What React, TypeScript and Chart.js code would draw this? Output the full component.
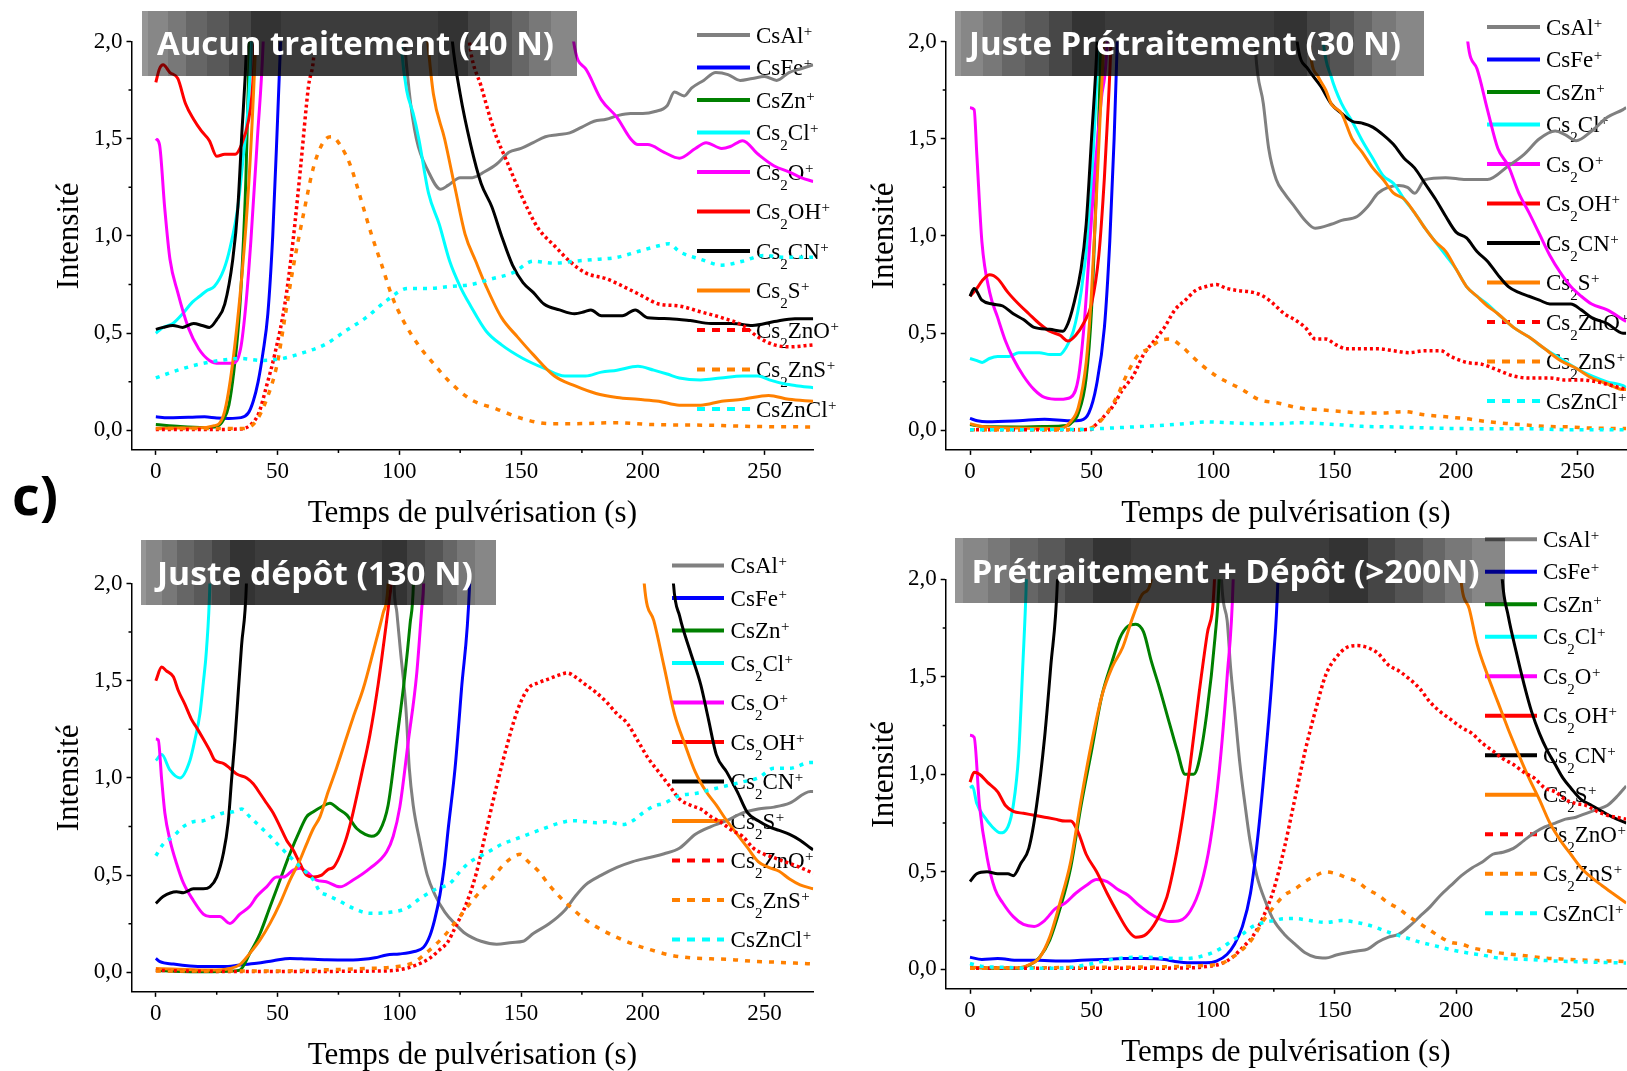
import React, { useEffect, useRef } from 'react';
import { Chart, registerables } from 'chart.js';

Chart.register(...registerables);

type Pt = [number, number];

// ---------- text / categories ----------
const ionLabels = ['CsAl⁺', 'CsFe⁺', 'CsZn⁺', 'Cs₂Cl⁺', 'Cs₂O⁺', 'Cs₂OH⁺', 'Cs₂CN⁺', 'Cs₂S⁺', 'Cs₂ZnO⁺', 'Cs₂ZnS⁺', 'CsZnCl⁺'];
const panelTitles = ['Aucun traitement (40 N)', 'Juste Prétraitement (30 N)', 'Juste dépôt (130 N)', 'Prétraitement + Dépôt (>200N)'];
const xTickValues = [0, 50, 100, 150, 200, 250];
const xMinorValues = [25, 75, 125, 175, 225];
const yTickValues = [0, 0.5, 1, 1.5, 2];
const yMinorValues = [0.25, 0.75, 1.25, 1.75];
const xAxisTitle = 'Temps de pulvérisation (s)';
const yAxisTitle = 'Intensité';
const figureTag = 'c)';

// ---------- Panel 1 : Aucun traitement (40 N) ----------
const p1CsAl: Pt[] = [[0,3],[98,3],[101,2.2],[104,1.75],[107,1.5],[112,1.33],[117,1.24],[120,1.26],[125,1.3],[130,1.3],[135,1.33],[140,1.37],[145,1.43],[150,1.45],[155,1.48],[160,1.51],[165,1.52],[170,1.53],[175,1.56],[180,1.59],[185,1.6],[190,1.62],[195,1.63],[200,1.63],[205,1.64],[210,1.67],[213,1.74],[217,1.72],[220,1.76],[225,1.8],[230,1.84],[235,1.83],[240,1.8],[245,1.81],[250,1.82],[255,1.8],[260,1.84],[265,1.86],[270,1.88]];
const p1CsFe: Pt[] = [[0,0.07],[5,0.065],[10,0.066],[15,0.068],[20,0.07],[25,0.064],[30,0.062],[35,0.066],[38,0.09],[40,0.15],[42,0.25],[44,0.4],[46,0.6],[48,1.0],[50,1.6],[51.4,2.05],[54,3],[270,3]];
const p1CsZn: Pt[] = [[0,0.03],[10,0.02],[20,0.015],[25,0.02],[28,0.06],[30,0.13],[32,0.3],[34,0.55],[35.5,0.85],[37,1.3],[38.4,2.0],[40,2.8],[270,3]];
const p1Cs2Cl: Pt[] = [[0,0.5],[3,0.53],[7,0.55],[11,0.6],[15,0.66],[18,0.69],[21,0.72],[24,0.74],[28,0.83],[30.5,0.94],[33.7,1.15],[36,1.42],[38,1.68],[39.3,2.0],[41,2.6],[98,2.6],[101,1.95],[103,1.75],[105.7,1.63],[108,1.5],[112,1.22],[116.4,1.06],[120.7,0.87],[125,0.74],[129.3,0.64],[135.7,0.51],[142,0.44],[150.8,0.37],[159.4,0.32],[168,0.28],[176.5,0.28],[183,0.3],[189.4,0.31],[198,0.33],[204.5,0.31],[210,0.29],[215,0.27],[223.8,0.26],[232,0.27],[241,0.28],[247.4,0.28],[252,0.26],[258,0.24],[263,0.23],[270,0.22]];
const p1Cs2O: Pt[] = [[0,1.5],[1.5,1.47],[3.6,1.15],[5.8,0.88],[9,0.71],[13.3,0.53],[17.6,0.42],[22,0.36],[26.2,0.345],[31.6,0.345],[34.8,0.42],[37,0.65],[39,0.97],[41.7,1.5],[44.1,2.0],[46,2.8],[168,2.8],[171.6,2.0],[176.5,1.86],[183,1.7],[189.4,1.61],[195,1.5],[198,1.47],[202,1.47],[208.8,1.43],[215,1.4],[221.6,1.45],[226,1.48],[232.4,1.45],[236,1.46],[241,1.49],[247.4,1.42],[254,1.36],[260,1.33],[265,1.3],[270,1.28]];
const p1Cs2OH: Pt[] = [[0,1.79],[1.5,1.86],[3,1.88],[5.8,1.84],[9,1.81],[12.2,1.68],[15.5,1.6],[18.7,1.54],[22,1.49],[25,1.41],[28.3,1.42],[32.6,1.42],[35.2,1.47],[38,1.59],[39.5,1.73],[40.7,2.0],[42,2.6],[270,3]];
const p1Cs2CN: Pt[] = [[0,0.52],[3,0.53],[7,0.54],[11,0.53],[15.5,0.55],[19,0.54],[22,0.53],[25,0.57],[28.3,0.65],[31.6,0.88],[33.7,1.15],[35.2,1.5],[37.3,2.0],[38.5,2.6],[118,2.6],[121.8,2.0],[125,1.73],[129.3,1.47],[133.6,1.27],[138,1.15],[142,1.0],[146.5,0.85],[150.8,0.76],[155,0.71],[159.4,0.65],[165.8,0.62],[172,0.6],[176,0.61],[178.7,0.62],[183,0.59],[191.6,0.59],[196.9,0.62],[202,0.58],[211,0.575],[219.5,0.565],[228,0.55],[236.7,0.55],[245,0.54],[254,0.56],[262.5,0.575],[270,0.575]];
const p1Cs2S: Pt[] = [[0,0.01],[10,0.012],[20,0.015],[24,0.025],[26,0.035],[28.3,0.1],[30.5,0.25],[33,0.5],[35,0.75],[37,1.05],[39,1.45],[41,2.0],[42.5,2.6],[108,2.6],[111.7,2.0],[114,1.73],[118.6,1.5],[123,1.24],[127,1.01],[131.4,0.87],[135.7,0.74],[142,0.58],[148.6,0.48],[155,0.39],[163.7,0.28],[172,0.23],[180.8,0.19],[189.4,0.17],[198,0.16],[206.6,0.15],[215,0.13],[223.8,0.13],[232.4,0.15],[241,0.16],[251.7,0.18],[260,0.16],[270,0.15]];
const p1Cs2ZnO: Pt[] = [[0,0.005],[20,0.005],[35,0.008],[39,0.03],[42.3,0.09],[45.5,0.23],[48.8,0.39],[53,0.65],[56.3,0.97],[59.5,1.36],[62.7,1.77],[64.9,1.93],[66.5,2.3],[126,2.3],[129.3,1.95],[133.6,1.77],[139,1.54],[144.3,1.38],[150.8,1.19],[157,1.04],[163.7,0.95],[170,0.87],[176.5,0.81],[185,0.78],[193.7,0.73],[200,0.69],[206.6,0.65],[215,0.64],[223.8,0.61],[232.4,0.58],[241,0.54],[247.4,0.48],[254,0.44],[260,0.43],[270,0.44]];
const p1Cs2ZnS: Pt[] = [[0,0.01],[20,0.01],[36,0.01],[41,0.045],[45.5,0.16],[49.8,0.34],[53,0.58],[56.3,0.83],[60.6,1.11],[64.9,1.36],[69.2,1.49],[72.4,1.51],[75.6,1.47],[80,1.36],[84.2,1.19],[88.5,1.01],[92.8,0.85],[97,0.69],[101.4,0.57],[107.8,0.44],[114.3,0.34],[120.7,0.25],[129.3,0.16],[140,0.11],[150.8,0.06],[161.5,0.035],[172,0.035],[189.4,0.04],[204.5,0.03],[226,0.027],[247.4,0.02],[270,0.018]];
const p1CsZnCl: Pt[] = [[0,0.27],[9,0.31],[17.6,0.34],[26.2,0.36],[34.8,0.37],[43.4,0.36],[52,0.37],[60.6,0.4],[69.2,0.44],[77.7,0.51],[86.3,0.58],[95,0.67],[103.5,0.73],[112,0.73],[120.7,0.74],[129.3,0.75],[138,0.78],[146.5,0.81],[155,0.87],[163.7,0.86],[172,0.87],[180.8,0.88],[189.4,0.89],[198,0.92],[206.6,0.95],[210.9,0.96],[215,0.92],[223.8,0.88],[232.4,0.85],[241,0.87],[249.6,0.9],[258,0.89],[270,0.89]];

// ---------- Panel 2 : Juste Prétraitement (30 N) ----------
const p2CsAl: Pt[] = [[0,3],[114,3],[117.5,1.95],[120.7,1.68],[122.9,1.45],[126,1.29],[129.3,1.22],[133.6,1.15],[137.9,1.08],[142,1.04],[148.6,1.06],[152.9,1.08],[159.3,1.1],[163.6,1.15],[167.9,1.22],[172,1.25],[176.5,1.26],[180,1.25],[183,1.22],[187.2,1.29],[195.7,1.3],[204,1.29],[212.9,1.29],[221.5,1.36],[228,1.42],[234.3,1.5],[240.8,1.54],[245,1.52],[249.4,1.49],[255.8,1.54],[262.2,1.61],[268.7,1.65],[270,1.66]];
const p2CsFe: Pt[] = [[0,0.062],[3,0.05],[7,0.045],[20,0.05],[30.7,0.057],[41,0.05],[45.7,0.053],[48.9,0.09],[52,0.23],[55.3,0.53],[57.5,0.97],[59.3,1.5],[60.6,2.0],[62.5,3],[270,3]];
const p2CsZn: Pt[] = [[0,0.03],[5,0.02],[20,0.018],[30,0.02],[40,0.025],[41.4,0.035],[44.6,0.09],[47.8,0.27],[50,0.62],[51.7,1.15],[53.9,2.0],[55.5,3],[270,3]];
const p2Cs2Cl: Pt[] = [[0,0.37],[2.5,0.36],[5,0.35],[8,0.37],[11.4,0.38],[16,0.38],[20,0.4],[28.5,0.4],[33,0.39],[37,0.39],[39.2,0.42],[42.5,0.51],[45.7,0.71],[48.9,1.06],[51,1.5],[52.7,2.0],[54,2.7],[142,2.7],[145.4,2.0],[148.6,1.82],[152.9,1.68],[157.2,1.59],[161.4,1.49],[165.7,1.4],[170,1.31],[174.3,1.27],[178.6,1.19],[182.9,1.12],[187.2,1.04],[191.5,0.97],[195.8,0.9],[200,0.83],[204.3,0.74],[208.6,0.69],[212.9,0.65],[217.2,0.6],[223.6,0.53],[230,0.48],[236.5,0.42],[242.9,0.37],[249.4,0.32],[255.8,0.28],[262.2,0.25],[268.7,0.23],[270,0.22]];
const p2Cs2O: Pt[] = [[0,1.66],[1.7,1.65],[2.8,1.42],[4.9,0.97],[8.1,0.71],[11.4,0.58],[14.6,0.46],[17.8,0.37],[22,0.28],[26.4,0.21],[30.7,0.17],[37,0.16],[41.4,0.17],[44.6,0.27],[47,0.55],[49.5,1.0],[51.5,1.35],[54,1.7],[56.4,2.0],[58,2.8],[201,2.8],[204.8,2.0],[208.6,1.86],[212.9,1.65],[217.2,1.45],[221.5,1.36],[225.8,1.22],[230,1.12],[234.3,1.01],[238.6,0.9],[243,0.81],[247.2,0.74],[251.5,0.69],[255.8,0.65],[262.2,0.62],[268.7,0.57],[270,0.56]];
const p2Cs2OH: Pt[] = [[0,0.69],[2.8,0.73],[5,0.77],[8.1,0.8],[11.4,0.78],[15.6,0.71],[20,0.65],[24.2,0.6],[28.5,0.55],[32.8,0.51],[37,0.49],[40.3,0.46],[43.5,0.49],[46.7,0.55],[50,0.65],[53,0.9],[55.3,1.3],[57,1.7],[58,2.0],[59.5,2.8],[270,3]];
const p2Cs2CN: Pt[] = [[0,0.69],[1.7,0.73],[4.9,0.67],[9.2,0.65],[13.5,0.64],[17.8,0.6],[22,0.57],[26.4,0.53],[32.8,0.52],[38.2,0.51],[40.3,0.55],[42.5,0.64],[45.7,0.83],[47.8,1.06],[50,1.5],[52.3,2.0],[54,2.7],[131,2.7],[134.6,2.0],[139,1.86],[144.3,1.77],[148.6,1.68],[152.9,1.63],[157.2,1.59],[161.4,1.58],[165.7,1.56],[170,1.52],[174.3,1.47],[178.6,1.4],[182.9,1.35],[187.2,1.27],[191.5,1.19],[195.8,1.1],[200,1.02],[204.3,0.99],[208.6,0.92],[212.9,0.87],[217.2,0.8],[221.5,0.74],[225.8,0.71],[230,0.69],[234.3,0.67],[238.6,0.65],[243,0.65],[247.2,0.65],[251.5,0.62],[255.8,0.58],[262.2,0.55],[268.7,0.5],[270,0.5]];
const p2Cs2S: Pt[] = [[0,0.035],[5,0.02],[20,0.012],[37,0.01],[41.4,0.045],[44.6,0.12],[47.8,0.35],[50,0.71],[52,1.2],[53.5,1.6],[55,2.0],[56.5,2.7],[137,2.7],[140,1.95],[143.2,1.82],[146.4,1.75],[148.6,1.68],[152.9,1.63],[157.2,1.5],[161.4,1.43],[165.7,1.35],[170,1.29],[174.3,1.22],[178.6,1.19],[182.9,1.12],[187.2,1.04],[191.5,0.97],[195.8,0.92],[200,0.83],[204.3,0.74],[208.6,0.69],[212.9,0.64],[217.2,0.6],[223.6,0.53],[230,0.48],[236.5,0.42],[242.9,0.36],[249.4,0.32],[255.8,0.27],[262.2,0.24],[268.7,0.21],[270,0.21]];
const p2Cs2ZnO: Pt[] = [[0,0.003],[30,0.003],[50,0.005],[51,0.02],[54.2,0.06],[58.5,0.12],[62.8,0.21],[67.1,0.28],[71.4,0.39],[75.7,0.46],[80,0.53],[84.3,0.62],[88.6,0.67],[92.8,0.72],[97.1,0.74],[101.4,0.75],[105.7,0.73],[110,0.72],[116.4,0.71],[120.7,0.69],[125,0.65],[129.3,0.6],[133.6,0.57],[137.9,0.53],[142.2,0.47],[146.4,0.47],[150.7,0.44],[155,0.42],[161.4,0.42],[167.9,0.42],[174.3,0.41],[180.7,0.4],[187.2,0.41],[193.6,0.41],[197.9,0.38],[204.3,0.35],[210.8,0.34],[217.2,0.31],[223.6,0.28],[230,0.27],[238.6,0.27],[245,0.26],[251.5,0.26],[257.9,0.25],[264.4,0.23],[270,0.21]];
const p2Cs2ZnS: Pt[] = [[0,0.003],[45,0.005],[51,0.02],[56.4,0.09],[60.7,0.18],[65,0.3],[69.3,0.39],[73.5,0.42],[77.8,0.46],[82.1,0.47],[86.4,0.44],[90.7,0.39],[95,0.34],[101.4,0.28],[105.7,0.25],[112.1,0.21],[118.6,0.16],[127.1,0.14],[135.7,0.115],[144.3,0.106],[152.9,0.097],[161.4,0.09],[170,0.09],[178.6,0.097],[187.2,0.08],[195.8,0.07],[204.3,0.06],[212.9,0.045],[221.5,0.035],[230,0.027],[238.6,0.02],[247.2,0.018],[255.8,0.012],[270,0.01]];
const p2CsZnCl: Pt[] = [[0,0.004],[45,0.005],[54,0.01],[67,0.018],[80,0.027],[88.6,0.035],[97,0.044],[105.7,0.04],[116.4,0.035],[127,0.035],[135.7,0.04],[148.6,0.032],[161.4,0.021],[174.3,0.018],[191.5,0.012],[208.6,0.009],[230,0.009],[245,0.004],[270,0.004]];

// ---------- Panel 3 : Juste dépôt (130 N) ----------
const p3CsAl: Pt[] = [[0,3],[96,3],[97.8,2.0],[99,1.85],[100.5,1.65],[102.7,1.36],[104.1,1.05],[105.7,0.86],[108.5,0.67],[111.5,0.5],[114.6,0.4],[118.7,0.31],[122.9,0.25],[127.1,0.2],[133.6,0.16],[140,0.145],[146.5,0.154],[150.8,0.16],[155,0.2],[161.5,0.25],[168,0.32],[172.2,0.39],[176.5,0.45],[183,0.5],[189.4,0.54],[195.9,0.57],[202.3,0.59],[208.8,0.61],[215.2,0.64],[221.6,0.71],[228,0.75],[234.5,0.78],[241,0.82],[247.4,0.84],[253.9,0.85],[260.3,0.87],[268.9,0.93],[270,0.93]];
const p3CsFe: Pt[] = [[0,0.072],[1.7,0.055],[7.2,0.043],[14,0.033],[20.8,0.03],[27.7,0.03],[34.5,0.038],[41.4,0.047],[48.2,0.06],[55.1,0.072],[61.9,0.069],[70.2,0.065],[81,0.064],[90,0.075],[94.8,0.09],[100,0.095],[105.7,0.106],[110,0.13],[112.6,0.19],[114.5,0.27],[116.7,0.4],[118.5,0.55],[120.1,0.74],[122.9,1.05],[125.5,1.45],[128.9,2.0],[130.5,2.7],[270,3]];
const p3CsZn: Pt[] = [[0,0.01],[10,0.005],[20,0.004],[30,0.006],[34.5,0.012],[38.6,0.098],[42.8,0.2],[46.9,0.338],[51,0.475],[55.1,0.612],[59.2,0.732],[61.9,0.8],[64.7,0.826],[68.1,0.852],[71.5,0.87],[75,0.84],[78.4,0.81],[82.5,0.74],[86,0.71],[88.6,0.7],[92,0.73],[95.4,0.86],[98.9,1.19],[102.3,1.53],[104.4,1.79],[105.8,2.0],[107,2.7],[270,3]];
const p3Cs2Cl: Pt[] = [[0,1.09],[2.4,1.12],[5.8,1.04],[9.9,1.0],[14,1.09],[16.1,1.2],[18.1,1.33],[19.5,1.49],[20.8,1.66],[22.2,2.0],[23.5,2.8],[270,3]];
const p3Cs2O: Pt[] = [[0,1.2],[1,1.195],[2.4,0.99],[3.7,0.82],[5.8,0.68],[8.5,0.56],[11.3,0.46],[15.4,0.37],[19.5,0.3],[22.2,0.287],[26.3,0.287],[30.4,0.252],[34.5,0.3],[38.6,0.34],[41.4,0.39],[45.5,0.44],[49.6,0.49],[52.4,0.49],[56.4,0.526],[59.2,0.535],[61.9,0.518],[66,0.475],[70,0.466],[75.6,0.44],[81,0.475],[87.9,0.535],[94.8,0.62],[97.5,0.7],[100.2,0.85],[103.7,1.19],[107.1,1.53],[109.2,1.87],[110,2.0],[111.5,2.7],[270,3]];
const p3Cs2OH: Pt[] = [[0,1.5],[2.4,1.57],[4.4,1.55],[7.2,1.52],[9.2,1.45],[11.9,1.38],[14.7,1.3],[16.7,1.26],[19.5,1.2],[22.2,1.14],[24.3,1.09],[27.7,1.075],[30.4,1.05],[33.2,1.02],[37.3,1.0],[40,0.97],[42.8,0.92],[45.5,0.87],[48.2,0.82],[51,0.75],[53.7,0.68],[56.4,0.63],[59.2,0.56],[61.9,0.5],[64.7,0.49],[68.1,0.5],[70.8,0.53],[72.9,0.54],[77.7,0.67],[80.4,0.79],[84.5,1.02],[87.9,1.22],[91.3,1.48],[94.1,1.74],[96.1,1.94],[96.6,2.0],[98,2.7],[270,3]];
const p3Cs2CN: Pt[] = [[0,0.355],[3,0.39],[8.5,0.415],[11.3,0.41],[15.4,0.43],[19.5,0.43],[22.2,0.44],[25,0.49],[27.7,0.61],[29.7,0.77],[31.1,0.99],[32.5,1.2],[33.9,1.45],[35.2,1.68],[37.2,2.0],[38.5,2.7],[210,2.7],[212.6,2.0],[215.2,1.83],[219.5,1.65],[223.8,1.48],[227,1.3],[230.2,1.12],[234.5,1.03],[238.8,0.93],[243.1,0.82],[247.4,0.78],[251.7,0.75],[256,0.73],[260.3,0.71],[264.6,0.68],[268.9,0.64],[270,0.63]];
const p3Cs2S: Pt[] = [[0,0.02],[7,0.018],[22,0.012],[30.4,0.02],[34.5,0.04],[38.6,0.098],[42.8,0.167],[46.9,0.252],[51,0.355],[55.1,0.475],[59.2,0.578],[61.9,0.66],[64.7,0.74],[67.4,0.8],[70.8,0.93],[74.2,1.05],[81,1.31],[85.2,1.46],[89.3,1.65],[93.4,1.85],[95.4,2.0],[97,2.7],[198,2.7],[200.6,2.0],[204.5,1.81],[208.8,1.57],[213,1.33],[217.4,1.17],[221.6,1.03],[226,0.93],[230.2,0.86],[234.5,0.78],[238.8,0.71],[243.1,0.64],[247.4,0.57],[251.7,0.54],[256,0.52],[260.3,0.48],[264.6,0.45],[270,0.43]];
const p3Cs2ZnO: Pt[] = [[0,0.01],[30,0.005],[60,0.005],[90.6,0.007],[99.2,0.012],[107,0.038],[112.6,0.074],[116,0.11],[120,0.158],[122.9,0.23],[127.1,0.34],[131.4,0.5],[135.7,0.73],[140,0.96],[144.3,1.17],[148.6,1.35],[152.9,1.46],[157.2,1.49],[161.5,1.51],[165.8,1.53],[169,1.54],[172.2,1.52],[176.5,1.48],[180.8,1.44],[185.1,1.39],[189.4,1.33],[193.7,1.28],[198,1.19],[202.3,1.1],[206.6,1.03],[210.9,0.96],[215.2,0.89],[219.5,0.86],[223.8,0.84],[228.1,0.8],[232.4,0.77],[236.7,0.73],[241,0.7],[245.3,0.64],[249.6,0.61],[253.9,0.59],[258.2,0.57],[264.6,0.54],[270,0.51]];
const p3Cs2ZnS: Pt[] = [[0,0.007],[50,0.007],[64.9,0.012],[86.3,0.02],[99.2,0.03],[105.7,0.05],[112,0.11],[118.6,0.19],[125,0.29],[131.4,0.39],[137.9,0.48],[143.3,0.56],[147.6,0.6],[149.7,0.607],[152.9,0.57],[157.2,0.52],[161.5,0.45],[165.8,0.39],[170,0.34],[176.5,0.27],[183,0.22],[189.4,0.18],[195.9,0.146],[202.3,0.12],[210.9,0.09],[219.5,0.075],[228,0.07],[236.7,0.066],[245.3,0.057],[253.9,0.053],[262.5,0.048],[270,0.043]];
const p3CsZnCl: Pt[] = [[0,0.6],[3,0.66],[7.2,0.7],[11.3,0.75],[15.4,0.775],[19.5,0.78],[23.6,0.8],[27.7,0.82],[31.8,0.826],[35.2,0.84],[38.6,0.8],[42.8,0.75],[46.9,0.7],[51,0.646],[55.1,0.595],[59.2,0.544],[64.7,0.475],[67.4,0.415],[70.2,0.398],[75,0.37],[81,0.33],[87.9,0.304],[96.1,0.309],[103,0.33],[108.5,0.38],[115.3,0.43],[120.8,0.458],[125,0.52],[129.3,0.57],[133.6,0.6],[138,0.63],[142.2,0.66],[146.5,0.68],[150.8,0.7],[155,0.72],[159.4,0.74],[163.7,0.76],[168,0.775],[172.2,0.78],[176.5,0.775],[180.8,0.77],[185,0.775],[191.6,0.76],[195.9,0.78],[200,0.82],[204.5,0.855],[208.8,0.87],[215.2,0.91],[221.6,0.92],[228,0.94],[234.5,0.96],[241,0.98],[247.4,1.0],[253.9,1.05],[260.3,1.05],[268.9,1.08],[270,1.08]];

// ---------- Panel 4 : Prétraitement + Dépôt (>200N) ----------
const p4CsAl: Pt[] = [[0,3],[101.5,3],[103.5,2.0],[105.8,1.79],[107.2,1.55],[109,1.32],[111,1.06],[113.2,0.84],[115.2,0.66],[118,0.48],[121.8,0.34],[125,0.25],[129.3,0.18],[133.6,0.13],[137.9,0.085],[142.2,0.062],[146.4,0.058],[150.7,0.073],[155,0.085],[159.3,0.094],[163.6,0.103],[167.9,0.14],[172.2,0.165],[176.5,0.18],[180.7,0.22],[185,0.27],[189.3,0.32],[193.6,0.38],[197.9,0.43],[202.2,0.48],[206.5,0.52],[210.8,0.55],[215.1,0.59],[219.3,0.6],[223.6,0.62],[227.9,0.66],[232.2,0.7],[236.5,0.73],[240.8,0.75],[245,0.77],[249.3,0.78],[253.6,0.8],[258,0.82],[262.2,0.84],[266.5,0.89],[270,0.94]];
const p4CsFe: Pt[] = [[0,0.062],[4.9,0.05],[11.4,0.055],[20,0.046],[28.5,0.046],[37,0.042],[45.7,0.046],[54.2,0.05],[62.8,0.055],[71.4,0.055],[80,0.05],[84.3,0.04],[90.7,0.033],[97.1,0.033],[101.4,0.042],[105.7,0.076],[108.9,0.13],[112.1,0.22],[115.4,0.39],[118.6,0.7],[121.8,1.12],[124.6,1.55],[126.7,2.0],[128,2.7],[270,3]];
const p4CsZn: Pt[] = [[0,0.01],[10,0.006],[20,0.006],[24.2,0.02],[28.5,0.06],[32.8,0.15],[37,0.31],[41.4,0.52],[45.7,0.84],[50,1.12],[54.2,1.4],[58.5,1.58],[61.7,1.7],[65,1.76],[68.2,1.77],[71.4,1.73],[74.6,1.58],[77.8,1.45],[82.1,1.26],[85.3,1.12],[88.5,1.0],[92,1.0],[93.9,1.05],[97.4,1.31],[100.8,1.7],[102.5,2.0],[104,2.7],[270,3]];
const p4Cs2Cl: Pt[] = [[0,0.93],[1,0.94],[2.8,0.85],[6,0.78],[9.2,0.73],[12.4,0.7],[15.6,0.73],[17.8,0.84],[20,1.1],[21.7,1.55],[23.2,2.0],[24.5,2.7],[270,3]];
const p4Cs2O: Pt[] = [[0,1.2],[1.7,1.19],[3.9,0.84],[7.1,0.57],[10.3,0.41],[13.5,0.34],[17.8,0.27],[22,0.23],[26.4,0.22],[30.7,0.25],[35,0.31],[39.2,0.34],[43.5,0.39],[47.8,0.43],[52.1,0.46],[56.4,0.45],[60.7,0.41],[65,0.38],[69.3,0.33],[73.5,0.29],[77.8,0.26],[82.1,0.245],[86.4,0.25],[90.7,0.3],[95,0.43],[98.8,0.65],[102.5,1.01],[105.8,1.5],[108.3,2.0],[109.5,2.7],[270,3]];
const p4Cs2OH: Pt[] = [[0,0.96],[1.7,1.01],[3.9,1.0],[7.1,0.96],[11.4,0.91],[14.6,0.84],[17.8,0.81],[22,0.8],[26.4,0.79],[30.7,0.78],[35,0.77],[39.2,0.76],[41.4,0.76],[44.6,0.7],[47.8,0.59],[52.1,0.5],[56.4,0.39],[60.7,0.29],[65,0.2],[68.2,0.165],[72.5,0.18],[76.8,0.25],[81,0.37],[84.3,0.55],[87.5,0.78],[90.6,1.05],[94.3,1.42],[97.6,1.72],[100.6,2.0],[102,2.7],[270,3]];
const p4Cs2CN: Pt[] = [[0,0.45],[2.8,0.49],[7,0.5],[11.4,0.49],[15.6,0.49],[17.8,0.48],[21,0.545],[24.2,0.62],[27.4,0.84],[30.7,1.19],[33.2,1.55],[36,2.0],[37.5,2.7],[216,2.7],[219,2.0],[221.5,1.81],[224.7,1.63],[228,1.46],[231.1,1.32],[234.3,1.21],[237.6,1.12],[240.8,1.05],[244,0.98],[247.2,0.93],[251.5,0.87],[255.8,0.84],[260,0.81],[264.4,0.78],[270,0.75]];
const p4Cs2S: Pt[] = [[0,0.01],[10,0.008],[20,0.008],[24.2,0.023],[28.5,0.058],[32.8,0.165],[37,0.34],[41.4,0.55],[45.7,0.87],[50,1.16],[54.2,1.4],[58.5,1.55],[62.8,1.65],[67.1,1.81],[71.4,1.93],[74.6,2.0],[76.5,2.7],[199,2.7],[202,2.0],[205.4,1.85],[208.6,1.67],[212.9,1.51],[217.2,1.37],[221.5,1.23],[225.8,1.1],[230,0.98],[234.3,0.87],[238.6,0.75],[243,0.66],[247.2,0.59],[251.5,0.52],[255.8,0.47],[260,0.43],[264.4,0.39],[270,0.34]];
const p4Cs2ZnO: Pt[] = [[0,0.005],[50,0.005],[90,0.007],[97.1,0.014],[103.6,0.03],[107.8,0.06],[112,0.11],[116.4,0.17],[120.7,0.27],[125,0.41],[129.3,0.62],[133.6,0.87],[137.9,1.12],[142.2,1.33],[146.4,1.51],[150.7,1.6],[155,1.65],[159.3,1.66],[163.6,1.65],[167.9,1.62],[172.2,1.56],[176.5,1.53],[180.7,1.49],[185,1.44],[189.3,1.37],[193.6,1.32],[197.9,1.28],[202.2,1.24],[206.5,1.21],[210.8,1.16],[215.1,1.12],[219.3,1.08],[223.6,1.05],[227.9,1.01],[232.2,0.98],[236.5,0.93],[240.8,0.91],[245,0.87],[249.3,0.85],[253.6,0.84],[258,0.81],[262.2,0.79],[270,0.77]];
const p4Cs2ZnS: Pt[] = [[0,0.005],[50,0.01],[84.3,0.014],[97,0.02],[103.6,0.03],[107.8,0.06],[112,0.1],[116.4,0.16],[120.7,0.25],[125,0.32],[129.3,0.38],[133.6,0.41],[137.9,0.45],[142.2,0.48],[146.4,0.5],[150.7,0.49],[155,0.47],[159.3,0.45],[163.6,0.41],[167.9,0.38],[172.2,0.34],[176.5,0.31],[180.7,0.27],[185,0.235],[189.3,0.2],[193.6,0.165],[197.9,0.138],[202.2,0.13],[206.5,0.11],[210.8,0.1],[217.2,0.085],[223.6,0.076],[230,0.067],[236.5,0.058],[243,0.053],[251.5,0.048],[260,0.044],[270,0.04]];
const p4CsZnCl: Pt[] = [[0,0.03],[5,0.015],[15.6,0.01],[24.2,0.005],[32.8,0.005],[41.4,0.01],[47.8,0.023],[54.2,0.04],[62.8,0.058],[71.4,0.062],[80,0.058],[88.6,0.055],[97,0.073],[103.6,0.11],[107.8,0.147],[112.1,0.18],[116.4,0.22],[120.7,0.24],[125,0.25],[129.3,0.26],[133.6,0.26],[140,0.25],[146.4,0.24],[152.9,0.25],[159.3,0.24],[165.7,0.22],[172.2,0.19],[178.6,0.165],[185,0.14],[191.5,0.12],[197.9,0.1],[204.3,0.085],[210.8,0.073],[217.2,0.058],[223.6,0.053],[230,0.05],[238.6,0.044],[247.2,0.04],[255.8,0.037],[270,0.032]];

const panelSeries: Pt[][][] = [
  [p1CsAl, p1CsFe, p1CsZn, p1Cs2Cl, p1Cs2O, p1Cs2OH, p1Cs2CN, p1Cs2S, p1Cs2ZnO, p1Cs2ZnS, p1CsZnCl],
  [p2CsAl, p2CsFe, p2CsZn, p2Cs2Cl, p2Cs2O, p2Cs2OH, p2Cs2CN, p2Cs2S, p2Cs2ZnO, p2Cs2ZnS, p2CsZnCl],
  [p3CsAl, p3CsFe, p3CsZn, p3Cs2Cl, p3Cs2O, p3Cs2OH, p3Cs2CN, p3Cs2S, p3Cs2ZnO, p3Cs2ZnS, p3CsZnCl],
  [p4CsAl, p4CsFe, p4CsZn, p4Cs2Cl, p4Cs2O, p4Cs2OH, p4Cs2CN, p4Cs2S, p4Cs2ZnO, p4Cs2ZnS, p4CsZnCl],
];

// ---------- styles ----------
const ionColors = ['#808080', '#0000ff', '#008000', '#00ffff', '#ff00ff', '#ff0000', '#000000', '#ff8000', '#ff0000', '#ff8000', '#00ffff'];
const ionDash: number[][] = [[], [], [], [], [], [], [], [], [3, 3], [5, 7], [4, 6]];

const W = 1627;
const H = 1071;
const Y_AXIS_W = 120;
const X_AXIS_H = 40;
const SERIF = '"Liberation Serif", "Times New Roman", serif';
const SANS = '"Open Sans", "DejaVu Sans", sans-serif';

type Layout = {
  plot: { left: number; right: number; top: number; bottom: number };
  legend: { x1: number; x2: number; tx: number; y0: number };
  box: { x: number; y: number; w: number; h: number };
  text: { x: number; base: number; w: number };
};

const panelLayouts: Layout[] = [
  { plot: { left: 131.5, right: 813.2, top: 41.5, bottom: 449.9 }, legend: { x1: 697, x2: 750, tx: 756, y0: 35 }, box: { x: 142, y: 11, w: 435, h: 65 }, text: { x: 157, base: 55, w: 397 } },
  { plot: { left: 945.7, right: 1626.2, top: 41.5, bottom: 449.9 }, legend: { x1: 1487, x2: 1540, tx: 1546, y0: 27 }, box: { x: 955, y: 11, w: 469, h: 65 }, text: { x: 969, base: 55, w: 432 } },
  { plot: { left: 131.5, right: 813.2, top: 583.5, bottom: 991.85 }, legend: { x1: 672, x2: 724, tx: 730.6, y0: 565.5 }, box: { x: 141, y: 540, w: 355, h: 65 }, text: { x: 157, base: 585, w: 316 } },
  { plot: { left: 945.7, right: 1626.2, top: 579.3, bottom: 988.8 }, legend: { x1: 1485, x2: 1537, tx: 1543, y0: 539.3 }, box: { x: 955.4, y: 537.6, w: 550, h: 65.4 }, text: { x: 971.5, base: 583.4, w: 508 } },
];

// alpha profile of the banded dark title box (fraction across width -> alpha)
const bandStops: [number, number][] = [[0, 0.41], [0.013, 0.47], [0.06, 0.53], [0.1, 0.6], [0.15, 0.65], [0.2, 0.72], [0.25, 0.8], [0.32, 0.765], [0.68, 0.8], [0.75, 0.73], [0.8, 0.67], [0.85, 0.6], [0.89, 0.53], [0.94, 0.47], [1, 0]];

function drawRichLabel(ctx: CanvasRenderingContext2D, label: string, x: number, baseline: number) {
  const main = `23px ${SERIF}`;
  const small = `15px ${SERIF}`;
  let cx = x;
  let buf = '';
  const flush = () => {
    if (!buf) return;
    ctx.font = main;
    ctx.fillText(buf, cx, baseline);
    cx += ctx.measureText(buf).width;
    buf = '';
  };
  for (const ch of label) {
    if (ch === '₂') {
      flush();
      ctx.font = small;
      ctx.fillText('2', cx, baseline + 10);
      cx += ctx.measureText('2').width;
    } else if (ch === '⁺') {
      flush();
      ctx.font = small;
      ctx.fillText('+', cx + 0.5, baseline - 7);
      cx += ctx.measureText('+').width;
    } else {
      buf += ch;
    }
  }
  flush();
}

function makePlugin(idx: number) {
  const L = panelLayouts[idx];
  return {
    id: 'decor' + idx,
    beforeDatasetsDraw(chart: any) {
      const ctx: CanvasRenderingContext2D = chart.ctx;
      ctx.save();
      let y = L.legend.y0;
      ionLabels.forEach((label, i) => {
        ctx.beginPath();
        ctx.setLineDash(ionDash[i].length ? [8, 7] : []);
        ctx.lineWidth = 4;
        ctx.strokeStyle = ionColors[i];
        ctx.moveTo(L.legend.x1, y);
        ctx.lineTo(L.legend.x2, y);
        ctx.stroke();
        ctx.setLineDash([]);
        ctx.fillStyle = '#000';
        ctx.textAlign = 'left';
        ctx.textBaseline = 'alphabetic';
        drawRichLabel(ctx, label, L.legend.tx, y + 7.5);
        y += 32.5 + (label.includes('₂') ? 7 : 0);
      });
      ctx.restore();
    },
    afterDatasetsDraw(chart: any) {
      const ctx: CanvasRenderingContext2D = chart.ctx;
      const xs = chart.scales.x;
      const ys = chart.scales.y;
      const area = chart.chartArea;
      ctx.save();
      // minor ticks
      ctx.strokeStyle = '#000';
      ctx.lineWidth = 1.5;
      ctx.beginPath();
      xMinorValues.forEach((v) => {
        const px = xs.getPixelForValue(v);
        ctx.moveTo(px, area.bottom);
        ctx.lineTo(px, area.bottom + 3);
      });
      yMinorValues.forEach((v) => {
        const py = ys.getPixelForValue(v);
        ctx.moveTo(area.left - 3, py);
        ctx.lineTo(area.left, py);
      });
      ctx.stroke();
      // axis titles
      ctx.fillStyle = '#000';
      ctx.font = `31px ${SERIF}`;
      ctx.textAlign = 'center';
      ctx.textBaseline = 'alphabetic';
      ctx.fillText(xAxisTitle, (area.left + area.right) / 2, area.bottom + 72.5);
      ctx.save();
      ctx.translate(area.left - 53.1, ys.getPixelForValue(1.0));
      ctx.rotate(-Math.PI / 2);
      ctx.fillText(yAxisTitle, 0, 0);
      ctx.restore();
      // banded title box
      const b = L.box;
      for (let i = 0; i < bandStops.length - 1; i++) {
        const x0 = Math.round(b.x + bandStops[i][0] * b.w);
        const x1 = Math.round(b.x + bandStops[i + 1][0] * b.w);
        ctx.fillStyle = `rgba(0,0,0,${bandStops[i][1]})`;
        ctx.fillRect(x0, Math.round(b.y), x1 - x0, Math.round(b.h));
      }
      // title text
      ctx.font = `bold 33px ${SANS}`;
      ctx.textAlign = 'left';
      const m = ctx.measureText(panelTitles[idx]).width;
      ctx.save();
      ctx.translate(L.text.x, L.text.base);
      ctx.scale(L.text.w / m, 1);
      ctx.fillStyle = '#fff';
      ctx.fillText(panelTitles[idx], 0, 0);
      ctx.restore();
      if (idx === 0) {
        ctx.fillStyle = '#000';
        ctx.font = `bold 54px ${SANS}`;
        ctx.fillText(figureTag, 12, 515);
      }
      ctx.restore();
    },
  };
}

function buildConfig(idx: number): any {
  const L = panelLayouts[idx];
  const axisCommon = {
    type: 'linear',
    grid: { display: true, drawOnChartArea: false, drawTicks: true, tickLength: 5, tickColor: '#000', tickWidth: 1.5, color: '#000' },
    border: { display: true, color: '#000', width: 1.5 },
    title: { display: false },
  };
  return {
    type: 'line',
    data: {
      datasets: panelSeries[idx].map((pts, i) => ({
        label: ionLabels[i],
        data: pts.map(([x, y]) => ({ x, y })),
        borderColor: ionColors[i],
        backgroundColor: ionColors[i],
        borderWidth: ionDash[i].length ? 3.5 : 3,
        borderDash: ionDash[i],
        borderJoinStyle: 'round',
        pointRadius: 0,
        pointHoverRadius: 0,
        fill: false,
        cubicInterpolationMode: 'monotone',
        clip: 0,
        order: ionLabels.length - 1 - i,
      })),
    },
    options: {
      animation: false,
      responsive: false,
      devicePixelRatio: 1,
      events: [],
      layout: {
        padding: {
          left: L.plot.left - Y_AXIS_W,
          top: L.plot.top,
          right: W - L.plot.right,
          bottom: H - L.plot.bottom - X_AXIS_H,
        },
      },
      plugins: { legend: { display: false }, tooltip: { enabled: false }, title: { display: false } },
      scales: {
        x: {
          ...axisCommon,
          min: -10,
          max: 270,
          afterFit: (s: any) => { s.height = X_AXIS_H; },
          afterBuildTicks: (s: any) => { s.ticks = xTickValues.map((v) => ({ value: v })); },
          ticks: {
            autoSkip: false,
            maxRotation: 0,
            padding: 3,
            color: '#000',
            font: { family: SERIF, size: 23 },
            callback: (v: number) => String(v),
          },
        },
        y: {
          ...axisCommon,
          min: -0.1,
          max: 2.0,
          afterFit: (s: any) => { s.width = Y_AXIS_W; },
          afterBuildTicks: (s: any) => { s.ticks = yTickValues.map((v) => ({ value: v })); },
          ticks: {
            autoSkip: false,
            padding: 4,
            color: '#000',
            font: { family: SERIF, size: 23 },
            callback: (v: number) => Number(v).toFixed(1).replace('.', ','),
          },
        },
      },
    },
    plugins: [makePlugin(idx)],
  };
}

function Panel({ idx }: { idx: number }) {
  const ref = useRef<HTMLCanvasElement | null>(null);
  useEffect(() => {
    if (!ref.current) return;
    const chart = new Chart(ref.current, buildConfig(idx));
    return () => chart.destroy();
  }, [idx]);
  return (
    <canvas
      ref={ref}
      width={W}
      height={H}
      style={{ position: 'absolute', left: 0, top: 0, width: W, height: H }}
    />
  );
}

export default function App() {
  return (
    <div style={{ position: 'absolute', left: 0, top: 0, width: W, height: H, background: '#fff', overflow: 'hidden' }}>
      {[0, 1, 2, 3].map((i) => (
        <Panel key={i} idx={i} />
      ))}
    </div>
  );
}
